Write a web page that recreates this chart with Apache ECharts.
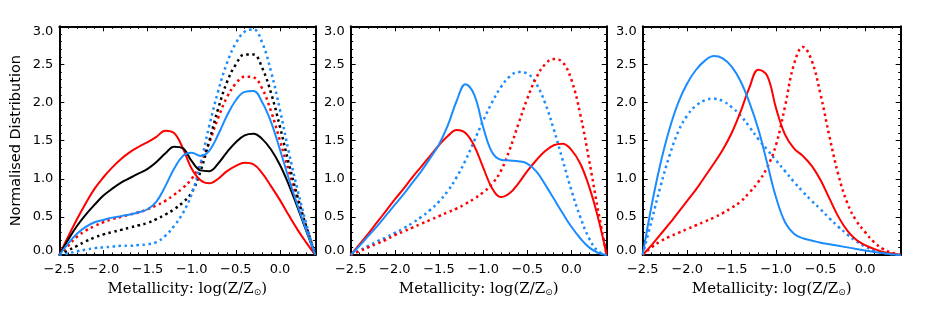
<!DOCTYPE html>
<html><head><meta charset="utf-8">
<script src="https://cdn.jsdelivr.net/npm/echarts@6/dist/echarts.min.js"></script>
<style>html,body{margin:0;padding:0;background:#fff}#c{width:926px;height:309px}</style>
</head><body><div id="c"></div>
<script>
// Sample positions along the metallicity axis, log(Z/Zsun)
const xs = [-2.5,-2.4,-2.3,-2.2,-2.1,-2.0,-1.9,-1.8,-1.7,-1.6,-1.5,-1.4,-1.3,-1.2,-1.1,-1.0,-0.9,-0.8,-0.7,-0.6,-0.5,-0.4,-0.3,-0.2,-0.1,0.0,0.1,0.2,0.3,0.4];

// Panel 1
const p1RedSolid   = [0,0.24,0.47,0.68,0.87,1.02,1.15,1.26,1.35,1.42,1.48,1.55,1.63,1.6,1.4,1.13,0.98,0.94,1.0,1.1,1.17,1.21,1.19,1.07,0.9,0.72,0.52,0.33,0.16,0];
const p1BlackSolid = [0,0.2,0.38,0.53,0.66,0.78,0.87,0.95,1.01,1.07,1.13,1.22,1.33,1.42,1.4,1.23,1.11,1.1,1.2,1.35,1.48,1.57,1.59,1.52,1.38,1.18,0.92,0.62,0.31,0];
const p1BlueSolid  = [0,0.15,0.28,0.37,0.43,0.46,0.49,0.51,0.53,0.56,0.6,0.7,0.9,1.13,1.3,1.34,1.3,1.37,1.58,1.83,2.03,2.14,2.15,2.0,1.74,1.38,1.0,0.65,0.32,0];
const p1RedDot     = [0,0.12,0.24,0.32,0.38,0.43,0.47,0.5,0.53,0.56,0.6,0.65,0.71,0.79,0.88,1.0,1.2,1.48,1.8,2.07,2.25,2.34,2.33,2.18,1.88,1.5,1.1,0.72,0.36,0];
const p1BlackDot   = [0,0.06,0.12,0.18,0.23,0.27,0.3,0.33,0.36,0.39,0.42,0.47,0.53,0.6,0.69,0.82,1.1,1.5,1.92,2.27,2.5,2.63,2.63,2.45,2.12,1.68,1.2,0.76,0.36,0];
const p1BlueDot    = [0,0.02,0.05,0.07,0.09,0.1,0.11,0.12,0.12,0.13,0.14,0.17,0.25,0.38,0.55,0.8,1.2,1.7,2.15,2.52,2.78,2.93,2.96,2.78,2.4,1.9,1.35,0.85,0.4,0];

// Panel 2
const p2RedSolid   = [0,0.14,0.28,0.43,0.58,0.73,0.87,1.02,1.16,1.3,1.44,1.56,1.64,1.6,1.43,1.15,0.88,0.76,0.81,0.94,1.1,1.24,1.36,1.44,1.46,1.38,1.2,0.9,0.5,0];
const p2BlueSolid  = [0,0.12,0.25,0.38,0.52,0.66,0.8,0.95,1.1,1.27,1.45,1.7,2.02,2.24,2.1,1.68,1.35,1.25,1.24,1.23,1.2,1.1,0.93,0.74,0.55,0.37,0.22,0.1,0.03,0];
const p2BlueDot    = [0,0.06,0.12,0.18,0.23,0.29,0.35,0.42,0.5,0.59,0.7,0.84,1.02,1.24,1.5,1.76,2.0,2.2,2.34,2.4,2.38,2.25,2.0,1.65,1.25,0.85,0.5,0.22,0.05,0];
const p2RedDot     = [0,0.05,0.1,0.15,0.2,0.26,0.31,0.36,0.41,0.46,0.51,0.56,0.61,0.67,0.74,0.82,0.93,1.1,1.38,1.72,2.05,2.32,2.5,2.57,2.53,2.3,1.85,1.25,0.6,0];

// Panel 3
const p3BlueSolid  = [0,0.65,1.2,1.65,2.0,2.25,2.43,2.55,2.61,2.58,2.47,2.28,2.0,1.65,1.2,0.75,0.43,0.28,0.22,0.19,0.16,0.14,0.12,0.1,0.08,0.06,0.04,0.025,0.01,0];
const p3BlueDot    = [0,0.45,0.9,1.3,1.62,1.83,1.96,2.03,2.05,2.02,1.94,1.83,1.68,1.52,1.38,1.24,1.1,0.96,0.83,0.71,0.6,0.48,0.37,0.27,0.18,0.11,0.06,0.03,0.01,0];
const p3RedSolid   = [0,0.13,0.27,0.41,0.56,0.71,0.86,1.03,1.2,1.38,1.6,1.88,2.2,2.43,2.35,1.92,1.58,1.4,1.3,1.17,0.98,0.74,0.5,0.32,0.2,0.13,0.08,0.04,0.02,0];
const p3RedDot     = [0,0.1,0.18,0.24,0.29,0.34,0.39,0.44,0.49,0.55,0.62,0.7,0.82,0.96,1.15,1.45,1.95,2.5,2.73,2.55,2.1,1.55,1.05,0.68,0.45,0.3,0.17,0.08,0.03,0];

// Axis ranges and tick labels
const xRange = [-2.5, 0.4];
const yRange = [0, 3];
const majorStep = 0.5;
const minorStep = 0.1;
const xTitle = 'Metallicity: log(Z/Z{s|⊙})';
const yTitle = 'Normalised Distribution';

const RED = '#ff0000', BLUE = '#1a8cff', BLACK = '#000000';

const panels = [
  { left: 59.3, width: 256, lines: [
      [p1RedDot, RED, true], [p1BlackDot, BLACK, true], [p1BlueDot, BLUE, true],
      [p1RedSolid, RED, false], [p1BlackSolid, BLACK, false], [p1BlueSolid, BLUE, false]] },
  { left: 350.7, width: 256, lines: [
      [p2BlueDot, BLUE, true], [p2RedDot, RED, true],
      [p2RedSolid, RED, false], [p2BlueSolid, BLUE, false]] },
  { left: 642.7, width: 258, lines: [
      [p3BlueDot, BLUE, true], [p3RedDot, RED, true],
      [p3RedSolid, RED, false], [p3BlueSolid, BLUE, false]] }
];

function fmt(v) {
  const s = (Math.abs(v) < 1e-9 ? 0 : v).toFixed(1);
  return s.replace('-', '\u2212');
}
function isMajor(v) { return Math.abs(v / majorStep - Math.round(v / majorStep)) < 1e-6; }

const TICKFONT = { fontFamily: 'DejaVu Sans', fontSize: 13, color: '#000' };
const grids = [], xAxes = [], yAxes = [], series = [];
const TOP = 26.3, HEIGHT = 228.7;

panels.forEach((p, pi) => {
  for (let k = 0; k < 2; k++) {
    const g = grids.length;
    grids.push({ left: p.left, width: p.width, top: TOP, height: HEIGHT, containLabel: false });
    const major = k === 0;
    const step = major ? majorStep : minorStep;
    const tick = { show: true, inside: true, length: major ? 5 : 2.5, lineStyle: { color: '#000', width: 1 } };
    const line = { show: major, onZero: false, lineStyle: { color: '#000', width: 2 } };
    ['bottom', 'top'].forEach(pos => {
      const ax = {
        type: 'value', gridIndex: g, position: pos, min: xRange[0], max: xRange[1], interval: step,
        axisLine: line, axisTick: tick, splitLine: { show: false },
        axisLabel: { show: false }
      };
      if (major && pos === 'bottom') {
        ax.axisLabel = Object.assign({ show: true, margin: 8, formatter: v => isMajor(v) ? fmt(v) : '' }, TICKFONT);
        ax.name = xTitle;
        ax.nameLocation = 'middle';
        ax.nameGap = 27;
        ax.nameTextStyle = { fontFamily: 'DejaVu Serif', fontSize: 15, color: '#000',
          rich: { s: { fontFamily: 'DejaVu Sans', fontSize: 9, color: '#000', verticalAlign: 'bottom', padding: [6, 0, 0, 0] } } };
      }
      xAxes.push(ax);
    });
    ['left', 'right'].forEach(pos => {
      const ax = {
        type: 'value', gridIndex: g, position: pos, min: yRange[0], max: yRange[1], interval: step,
        axisLine: line, axisTick: tick, splitLine: { show: false },
        axisLabel: { show: false }
      };
      if (major && pos === 'left') {
        ax.axisLabel = Object.assign({ show: true, margin: 6,
          formatter: v => Math.abs(v - yRange[0]) < 1e-9 ? '{lo|' + fmt(v) + '}' : (Math.abs(v - yRange[1]) < 1e-9 ? '{hi|' + fmt(v) + '}' : fmt(v)),
          rich: { lo: Object.assign({ padding: [0, 0, 9, 0] }, TICKFONT), hi: Object.assign({ padding: [11, 0, 0, 0] }, TICKFONT) }
        }, TICKFONT);
        if (pi === 0) {
          ax.name = yTitle;
          ax.nameLocation = 'middle';
          ax.nameGap = 36;
          ax.nameRotate = 90;
          ax.nameTextStyle = { fontFamily: 'DejaVu Sans', fontSize: 14.5, color: '#000' };
        }
      }
      yAxes.push(ax);
    });
  }
  const axIdx = pi * 4; // bottom x axis / left y axis of the major grid
  p.lines.forEach(([vals, color, dotted]) => {
    series.push({
      type: 'line', xAxisIndex: axIdx, yAxisIndex: axIdx, symbol: 'none', smooth: 0.4,
      data: xs.map((x, i) => [x, vals[i]]),
      lineStyle: { color, width: dotted ? 2.5 : 2, type: dotted ? [2.5, 3.5] : 'solid', cap: 'butt' },
      z: dotted ? 2 : 3
    });
  });
});

const chart = echarts.init(document.getElementById('c'), null, { renderer: 'canvas' });
chart.setOption({ animation: false, backgroundColor: '#fff', grid: grids, xAxis: xAxes, yAxis: yAxes, series });
</script></body></html>
